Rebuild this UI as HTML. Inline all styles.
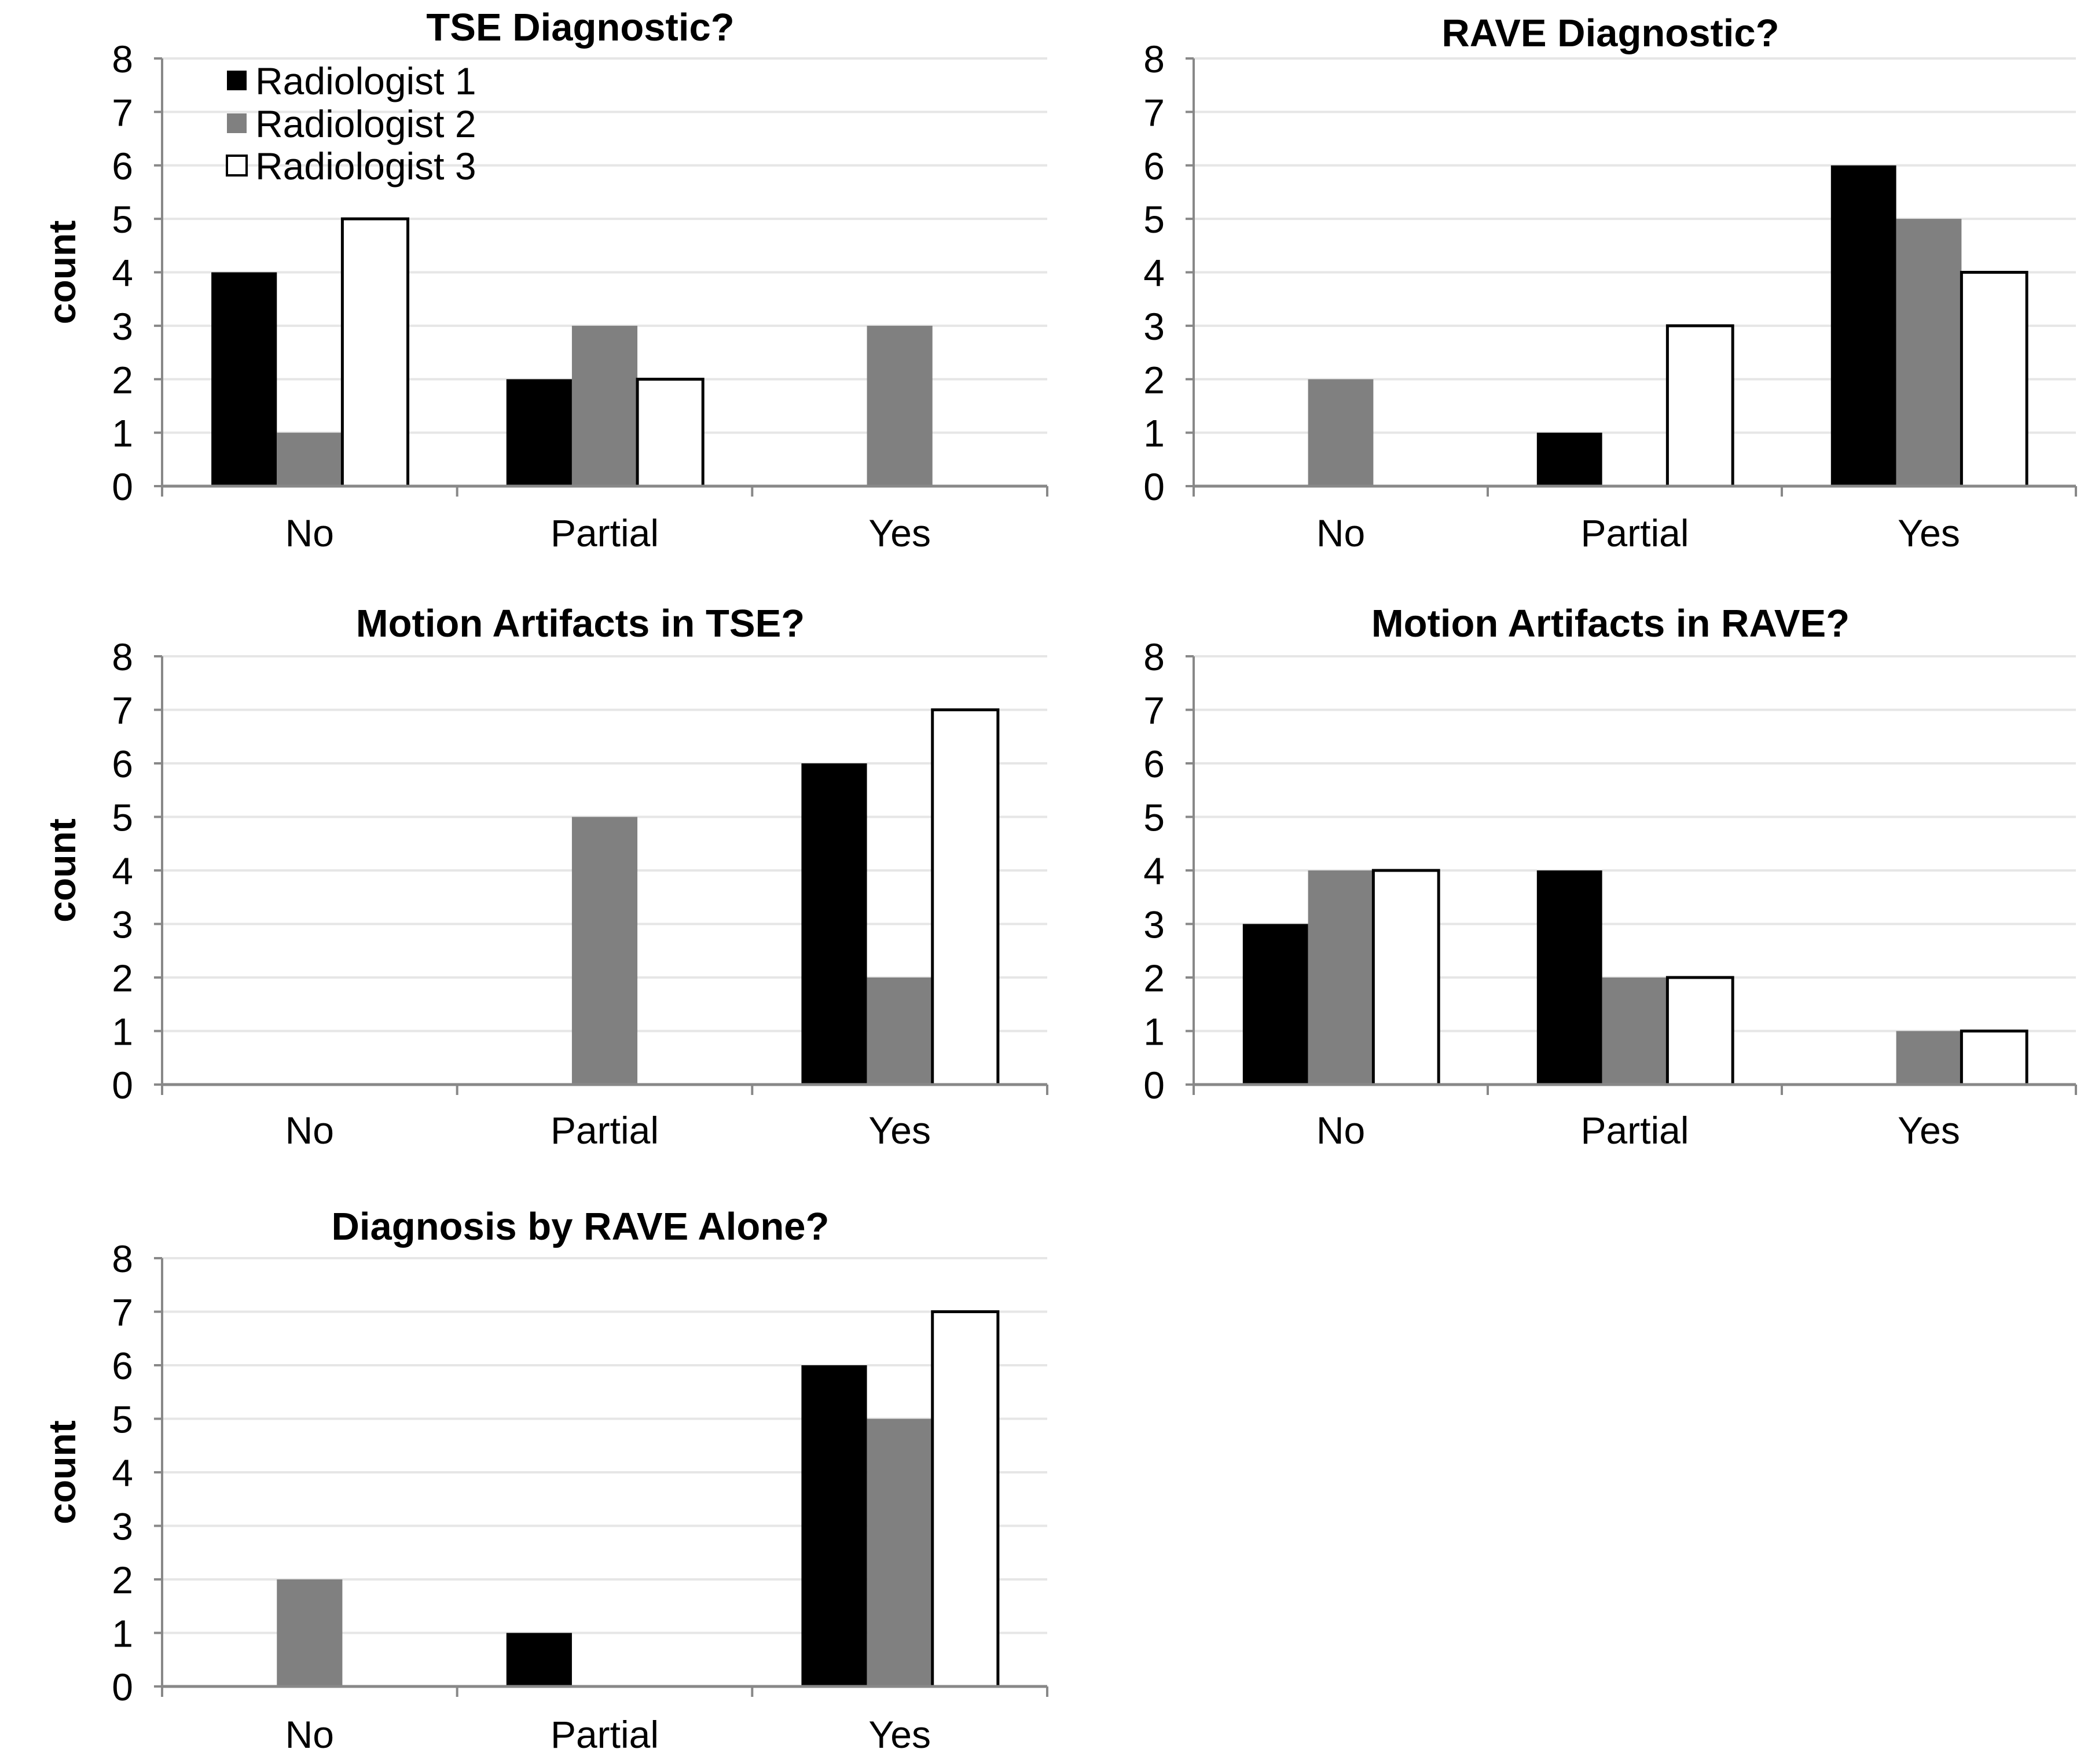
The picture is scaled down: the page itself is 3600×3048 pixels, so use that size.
<!DOCTYPE html>
<html><head><meta charset="utf-8"><style>
html,body{margin:0;padding:0;background:#fff;}
svg{display:block;font-family:"Liberation Sans",Arial,sans-serif;}
</style></head><body>
<svg id="chart" width="3600" height="3048" viewBox="0 0 3600 3048" xmlns="http://www.w3.org/2000/svg"></svg>
<script>
const categories = ["No","Partial","Yes"];
const seriesNames = ["Radiologist 1","Radiologist 2","Radiologist 3"];
const yTicks = [0,1,2,3,4,5,6,7,8];
const titles = ["TSE Diagnostic?","RAVE Diagnostic?","Motion Artifacts in TSE?","Motion Artifacts in RAVE?","Diagnosis by RAVE Alone?"];
const tseDiagR1 = [4,2,0], tseDiagR2 = [1,3,3], tseDiagR3 = [5,2,0];
const raveDiagR1 = [0,1,6], raveDiagR2 = [2,0,5], raveDiagR3 = [0,3,4];
const motionTseR1 = [0,0,6], motionTseR2 = [0,5,2], motionTseR3 = [0,0,7];
const motionRaveR1 = [3,4,0], motionRaveR2 = [4,2,1], motionRaveR3 = [4,2,1];
const raveAloneR1 = [0,1,6], raveAloneR2 = [2,0,5], raveAloneR3 = [0,0,7];
const panelData = [
  [tseDiagR1,tseDiagR2,tseDiagR3],
  [raveDiagR1,raveDiagR2,raveDiagR3],
  [motionTseR1,motionTseR2,motionTseR3],
  [motionRaveR1,motionRaveR2,motionRaveR3],
  [raveAloneR1,raveAloneR2,raveAloneR3]
];

const NS="http://www.w3.org/2000/svg";
const svg=document.getElementById('chart');
function mk(tag,attrs,parent){const e=document.createElementNS(NS,tag);for(const k in attrs)e.setAttribute(k,attrs[k]);(parent||svg).appendChild(e);return e;}
const layouts=[
  {x0:280,x1:1809,top:101,zero:840,titleY:70,labY:944},
  {x0:2062,x1:3586,top:101,zero:840,titleY:80,labY:944},
  {x0:280,x1:1809,top:1134,zero:1874,titleY:1100,labY:1976},
  {x0:2062,x1:3586,top:1134,zero:1874,titleY:1100,labY:1976},
  {x0:280,x1:1809,top:2174,zero:2914,titleY:2142,labY:3020}
];
const fills=["#000000","#808080","#ffffff"];
layouts.forEach((L,pi)=>{
  const g=mk('g',{});
  
  
  const ymax=8;
  const y=v=>L.zero-(L.zero-L.top)*v/ymax;
  const catW=(L.x1-L.x0)/categories.length;
  const barW=catW*0.222;
  yTicks.forEach(t=>{
    if(t>0){const gl=mk('line',{x1:L.x0,x2:L.x1,y1:y(t),y2:y(t),stroke:'#e6e6e6','stroke-width':4},g);
      
      }
    const tl=mk('line',{x1:L.x0-14,x2:L.x0,y1:y(t),y2:y(t),stroke:'#888','stroke-width':4},g);
    
    
    const tx=mk('text',{x:L.x0-50,y:y(t)+24,'text-anchor':'end','font-size':66,fill:'#000'},g);
    tx.textContent=t;
    
    
  });
  panelData[pi].forEach((vals,si)=>{
    vals.forEach((v,ci)=>{
      if(v<=0)return;
      const bx=L.x0+catW*ci+(catW-3*barW)/2+barW*si;
      const r=mk('rect',{x:bx,y:y(v),width:barW,height:L.zero-y(v),fill:fills[si],stroke:si==2?'#000':'none','stroke-width':5},g);
      
      
    });
  });
  const ya=mk('line',{x1:L.x0,x2:L.x0,y1:L.top,y2:L.zero,stroke:'#888','stroke-width':4},g);
  
  
  const xa=mk('line',{x1:L.x0,x2:L.x1,y1:L.zero,y2:L.zero,stroke:'#888','stroke-width':5},g);
  
  
  for(let i=0;i<=categories.length;i++){
    const xt=mk('line',{x1:L.x0+catW*i,x2:L.x0+catW*i,y1:L.zero,y2:L.zero+18,stroke:'#888','stroke-width':4},g);
    
    
  }
  categories.forEach((c,ci)=>{
    const t=mk('text',{x:L.x0+catW*(ci+0.5),y:L.labY,'text-anchor':'middle','font-size':66,fill:'#000'},g);
    t.textContent=c;
    
    
  });
  const tt=mk('text',{x:(L.x0+L.x1)/2-42,y:L.titleY,'text-anchor':'middle','font-size':67,'font-weight':'bold',fill:'#000'},g);
  tt.textContent=titles[pi];
  
  
  if(pi%2==0){
    const cy=(L.top+L.zero)/2;
    const ct=mk('text',{x:0,y:0,transform:`translate(130,${cy}) rotate(-90)`,'text-anchor':'middle','font-size':66,'font-weight':'bold',fill:'#000'},g);
    ct.textContent='count';
    
    
  }
});
// legend
const lg=mk('g',{});


const legY=[140,214,287];
seriesNames.forEach((n,i)=>{
  const s=mk('rect',{x:392,y:legY[i]-18,width:34,height:34,fill:fills[i],stroke:i==2?'#000':'none','stroke-width':4},lg);
  
  
  const t=mk('text',{x:441,y:legY[i]+23,'font-size':66,fill:'#000'},lg);
  t.textContent=n;
  
  
});
</script>
</body></html>
